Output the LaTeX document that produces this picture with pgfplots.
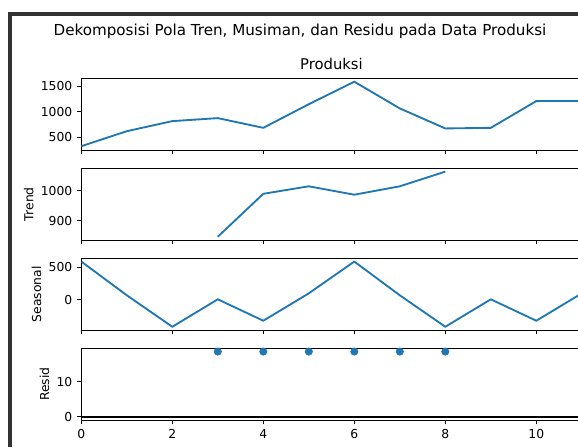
\documentclass[border=0pt]{standalone}
\usepackage{fontspec}
\setmainfont{DejaVu Sans}
\usepackage{pgfplots}
\pgfplotsset{compat=1.18}
\definecolor{mplblue}{HTML}{1F77B4}
\definecolor{framegray}{HTML}{333333}
\pgfplotsset{
 panel/.style={
  scale only axis, width=375.375pt, height=53.775pt,
  xmin=0, xmax=11,
  xtick={0,2,4,6,8,10},
  tick align=outside, xtick pos=left, ytick pos=left,
  major tick length=3.24pt,
  every tick/.style={black, line width=0.74pt},
  axis line style={black, line width=0.74pt},
  tick label style={font=\fontsize{9.25}{10}\selectfont},
  /pgf/number format/assume math mode=true,
  /pgf/number format/1000 sep={},
  scaled y ticks=false,
  anchor=north west,
  ylabel style={font=\fontsize{9.25}{10}\selectfont, inner sep=2pt},
 },
 noxlabels/.style={xticklabel=\empty},
 bluel/.style={mplblue, line width=1.39pt, line join=round},
}
\begin{document}
\begin{tikzpicture}
\useasboundingbox (0,0) rectangle (433.5pt,-335.25pt);
\clip (0,0) rectangle (433.5pt,-335.25pt);

% Panel 1: Produksi
\begin{axis}[panel, noxlabels, at={(60.975pt,-58.725pt)}, ymin=245, ymax=1655, ytick={500,1000,1500}]
\addplot[bluel] coordinates {(0,320)(1,615)(2,813)(3,872)(4,681)(5,1146)(6,1588)(7,1063)(8,669)(9,681)(10,1207)(11,1210)};
\end{axis}

% Panel 2: Trend
\begin{axis}[panel, noxlabels, at={(60.975pt,-126.225pt)}, ymin=836, ymax=1075, ytick={900,1000}, ylabel={Trend}]
\addplot[bluel] coordinates {(3,847)(4,990)(5,1015)(6,987)(7,1015)(8,1064)};
\end{axis}

% Panel 3: Seasonal
\begin{axis}[panel, noxlabels, at={(60.975pt,-193.725pt)}, ymin=-465, ymax=640, ytick={0,500}, ylabel={Seasonal}]
\addplot[bluel] coordinates {(0,590)(1,70)(2,-415)(3,8)(4,-322)(5,100)(6,590)(7,70)(8,-415)(9,8)(10,-322)(11,100)};
\end{axis}

% Panel 4: Resid
\begin{axis}[panel, at={(60.975pt,-261.225pt)}, ymin=-0.93, ymax=19.53, ytick={0,10}, ylabel={Resid}]
\addplot[black, line width=1.39pt] coordinates {(0,0)(11,0)};
\addplot[only marks, mark=*, mark size=2.78pt, mplblue, mark options={draw=mplblue, fill=mplblue}] coordinates {(3,18.6)(4,18.6)(5,18.6)(6,18.6)(7,18.6)(8,18.6)};
\end{axis}

\node[font=\fontsize{11.35}{13}\selectfont] at (225pt,-23.25pt) {Dekomposisi Pola Tren, Musiman, dan Residu pada Data Produksi};
\node[font=\fontsize{11.1}{13}\selectfont] at (248.6pt,-48pt) {Produksi};

\fill[framegray] (6pt,-9pt) rectangle (9pt,-335.25pt);
\fill[framegray] (6pt,-9pt) rectangle (433.5pt,-12pt);
\end{tikzpicture}
\end{document}
